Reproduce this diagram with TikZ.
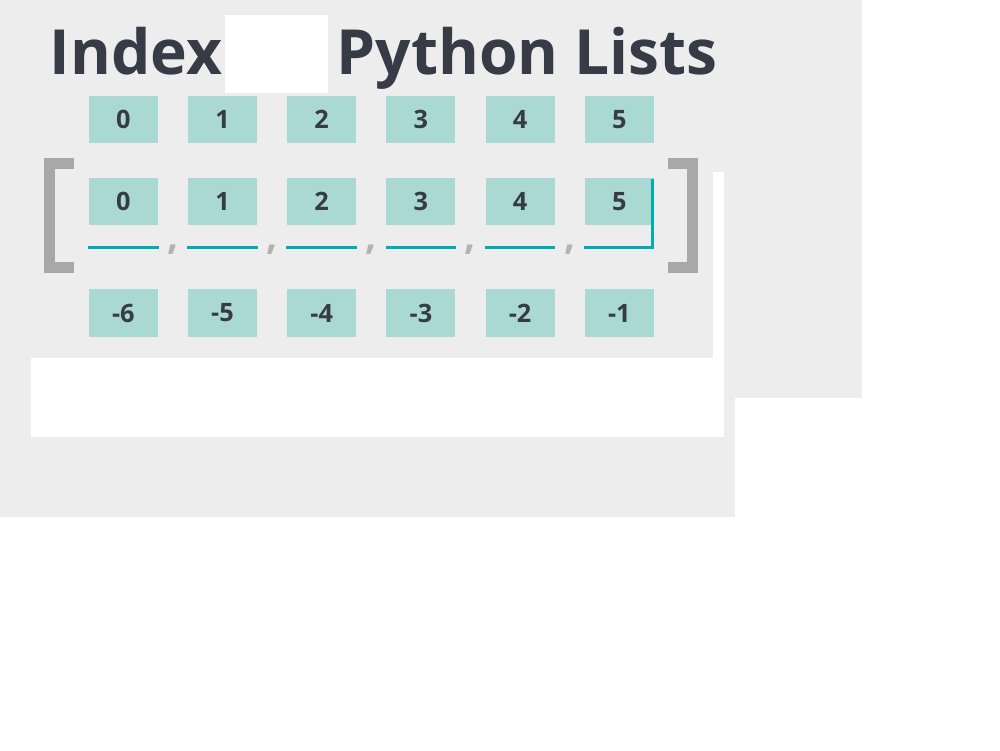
\documentclass[tikz,border=0pt]{standalone}
\usepackage{fontspec}
\setmainfont{Open Sans}
\usetikzlibrary{calc}

\definecolor{bggray}{HTML}{EDEDED}
\definecolor{boxteal}{HTML}{AAD9D4}
\definecolor{ink}{HTML}{373B45}
\definecolor{lineteal}{HTML}{00ADB5}
\definecolor{brgray}{HTML}{A8A8A8}
\definecolor{commagray}{HTML}{B3B3B3}

\tikzset{
  idxbox/.style={fill=boxteal, text=ink, minimum width=0.69cm, minimum height=0.475cm,
    inner sep=0pt, font=\fontsize{7.2}{8.5}\selectfont\bfseries},
  ttl/.style={anchor=base west, inner sep=0pt, text=ink, font=\fontsize{17.7}{21}\selectfont\bfseries},
  uline/.style={draw=lineteal, line width=0.95pt},
  brack/.style={draw=brgray, line width=3pt, line join=miter},
  sepmark/.style={text=commagray, inner sep=0pt, font=\fontsize{11}{13}\selectfont\bfseries},
}

\begin{document}
\begin{tikzpicture}[x=0.01cm, y=-0.01cm]
        \useasboundingbox (0,0) rectangle (1000,750);
        % background
        \fill[bggray] (0,0) rectangle (862,398);
        \fill[bggray] (0,398) rectangle (735,517);
        % title
        \node[ttl] (ttlA) at (49,74) {Index};
        \node[ttl] (ttlB) at (336,74) {Python Lists};
        \fill[white] (225,15) rectangle (328,93);
        % index boxes
        \foreach \i in {0,...,5}{
            \pgfmathtruncatemacro{\negidx}{\i-6}
            \node[idxbox] (t\i) at ({123.3+99.2*\i},119.5) {\i};
            \node[idxbox] (m\i) at ({123.3+99.2*\i},201.5) {\i};
            \node[idxbox] (n\i) at ({123.3+99.2*\i},313) {\negidx};
            \coordinate (u\i) at ($(m\i.south west)+(0,21.5)$);
            \coordinate (v\i) at ($(m\i.south east)+(0,21.5)$);
        }
        % underlines
        \foreach \i in {0,...,4}{
            \path[uline] (u\i) -- (v\i);
        }
        \coordinate (w5) at ($(m5.north east)+(-2,2)$);
        \path[uline, line join=miter] (u5) -- ($(v5)+(-2,0)$) -- (w5);
        % commas
        \foreach \i/\j in {1/0,2/1,3/2,4/3,5/4}{
            \node[sepmark] (c\i) at ($($(m\j.south east)!0.5!(m\i.south west)$)+(0,24)$) {,};
        }
        % brackets
        \path[brack] (73.7,163.3) -- (49.3,163.3) -- (49.3,267.7) -- (73.7,267.7);
        \path[brack] (668.3,163.3) -- (692.5,163.3) -- (692.5,267.7) -- (668.3,267.7);
        % white patches
        \fill[white] (713,172) rectangle (724,358);
        \fill[white] (31,358) rectangle (724,437);
\end{tikzpicture}
\end{document}
